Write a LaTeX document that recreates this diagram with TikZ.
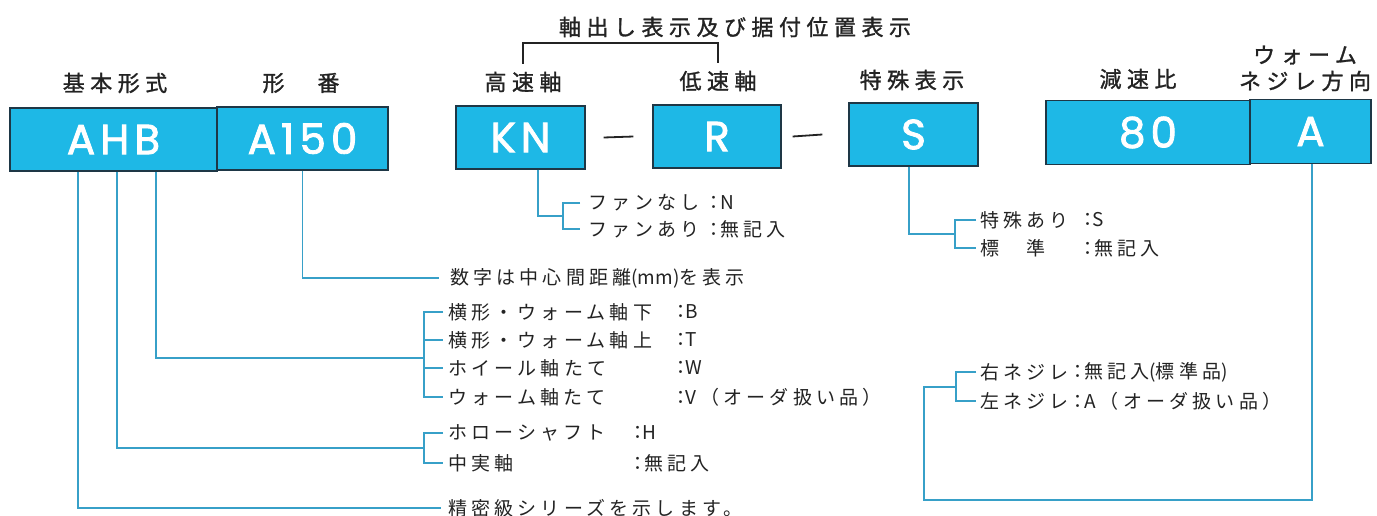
\documentclass[tikz,border=0pt]{standalone}
\usepackage{fontspec}
\newfontfamily\cjk[LetterSpace=22]{Noto Sans CJK JP}
\newfontfamily\cjkn{Noto Sans CJK JP}
\newfontfamily\hdfont[LetterSpace=25,FakeBold=1.2]{Noto Sans CJK JP}
\newfontfamily\boxfont[LetterSpace=12,FakeBold=2]{Poppins}
\definecolor{boxfill}{RGB}{30,184,230}
\definecolor{boxline}{RGB}{30,55,70}
\definecolor{linec}{RGB}{55,160,200}
\definecolor{txt}{RGB}{35,35,35}
\begin{document}
\begin{tikzpicture}[x=1pt,y=-1pt,
 box/.style={draw=boxline, line width=1.2pt, fill=boxfill, text=white, font=\boxfont\fontsize{42}{42}\selectfont, inner sep=0pt},
 hd/.style={text=txt, font=\hdfont\fontsize{22}{22}\selectfont, inner sep=0pt},
 desc/.style={text=txt, font=\cjk\fontsize{19}{19}\selectfont, inner sep=0pt, anchor=west},
 conn/.style={draw=linec, line width=1.3pt},
 brk/.style={draw=txt, line width=1.1pt},
 sepline/.style={draw=txt, line width=1.8pt}]
\useasboundingbox (0,0) rectangle (1377,515);
\fill[white] (0,0) rectangle (1377,515);
% boxes
\node[box, minimum width=207, minimum height=63] (ahb) at (113.5,139.5) {AHB};
\node[box, minimum width=171, minimum height=63] (a150) at (302.5,138.5) {A150};
\node[box, minimum width=129, minimum height=63] (kn) at (520.5,137.5) {KN};
\node[box, minimum width=128, minimum height=63] (r) at (717,136.5) {R};
\node[box, minimum width=129, minimum height=63] (s) at (913.5,134.5) {S};
\node[box, minimum width=204, minimum height=64] (r80) at (1148,132.5) {80};
\node[box, minimum width=121, minimum height=64] (a) at (1310.5,131.5) {A};
% separators
\draw[sepline] ([xshift=18]kn.east) -- ([xshift=-19]r.west);
\draw[sepline] ([xshift=11]r.east) -- ([xshift=-26]s.west);
% headers
\node[hd] (kihon) at (115,83) {基本形式};
\node[hd] (kataban) at (301,83) {形　番};
\node[hd] (jiku) at (735,27) {軸出し表示及び据付位置表示};
\node[hd] (kousoku) at (523,82) {高速軸};
\node[hd] (teisoku) at (718,81) {低速軸};
\node[hd] (tokushu) at (912,80) {特殊表示};
\node[hd] (gensoku) at (1138,79) {減速比};
\node[hd] (worm) at (1305,55) {ウォーム};
\node[hd] (nejire) at (1305,81) {ネジレ方向};
\coordinate (bt) at (620,43);
\draw[brk] ([yshift=8]kousoku.north) |- (bt) -| ([yshift=8]teisoku.north);
% descriptions
\node[desc] (fan1) at (588,203) {ファンなし：\kern-3pt N};
\node[desc] (fan2) at (588,229) {ファンあり：\kern-3pt 無記入};
\node[desc] (s1) at (980,220) {特殊あり};
\node[desc] (s1v) at (1078,220) {：\kern-5pt S};
\node[desc] (s2) at (980,248) {標　準};
\node[desc] (s2v) at (1078,248) {：\kern-3pt 無記入};
\node[desc] (num) at (450,278) {数字は中心間距離{\cjkn (mm)}を表示};
\node[desc] (k1) at (448,312) {横形・ウォーム軸下};
\node[desc] (k1v) at (671,312) {：\kern-5pt B};
\node[desc] (k2) at (448,340) {横形・ウォーム軸上};
\node[desc] (k2v) at (671,340) {：\kern-5pt T};
\node[desc] (k3) at (448,368) {ホイール軸たて};
\node[desc] (k3v) at (671,368) {：\kern-5pt W};
\node[desc] (k4) at (448,397) {ウォーム軸たて};
\node[desc] (k4v) at (671,397) {：\kern-5pt V（オーダ扱い品）};
\node[desc] (h1) at (448,433) {ホローシャフト};
\node[desc] (h1v) at (628,433) {：\kern-5pt H};
\node[desc] (h2) at (448,463) {中実軸};
\node[desc] (h2v) at (628,463) {：\kern-3pt 無記入};
\node[desc] (sei) at (448,508) {精密級シリーズを示します。};
\node[desc] (n1) at (980,372) {右ネジレ};
\node[desc] (n1v) at (1068,372) {：\kern-3pt 無記入{\cjkn (}標準品{\cjkn )}};
\node[desc] (n2) at (980,401) {左ネジレ};
\node[desc] (n2v) at (1068,401) {：\kern-3pt A（オーダ扱い品）};
% connectors
\coordinate (p1) at (78,0);
\draw[conn, shorten >=7pt] (ahb.south -| p1) |- (sei.west);
\coordinate (hb) at (424,448);
\draw[conn] ([xshift=-5]h1.west) -| (hb) |- ([xshift=-5]h2.west);
\coordinate (p2) at (117,0);
\draw[conn] (ahb.south -| p2) |- (hb);
\coordinate (kb) at (424,358);
\draw[conn] ([xshift=-5]k1.west) -| (kb) |- ([xshift=-5]k4.west);
\draw[conn] (kb |- k2.west) -- ([xshift=-5]k2.west);
\draw[conn] (kb |- k3.west) -- ([xshift=-5]k3.west);
\coordinate (p3) at (156,0);
\draw[conn] (ahb.south -| p3) |- (kb);
\draw[conn, shorten >=11pt] (a150.south) |- (num.west);
\coordinate (fb) at (563,216);
\draw[conn] ([xshift=-8]fan1.west) -| (fb) |- ([xshift=-8]fan2.west);
\coordinate (p4) at (538,0);
\draw[conn] (kn.south -| p4) |- (fb);
\coordinate (sb) at (955,234);
\draw[conn] ([xshift=-4]s1.west) -| (sb) |- ([xshift=-4]s2.west);
\coordinate (p5) at (909,0);
\draw[conn] (s.south -| p5) |- (sb);
\coordinate (nb) at (956,387);
\draw[conn] ([xshift=-4]n1.west) -| (nb) |- ([xshift=-4]n2.west);
\coordinate (p6) at (1312,0);
\coordinate (q6) at (924,500);
\draw[conn] (a.south -| p6) |- (q6) |- (nb);
\end{tikzpicture}
\end{document}
